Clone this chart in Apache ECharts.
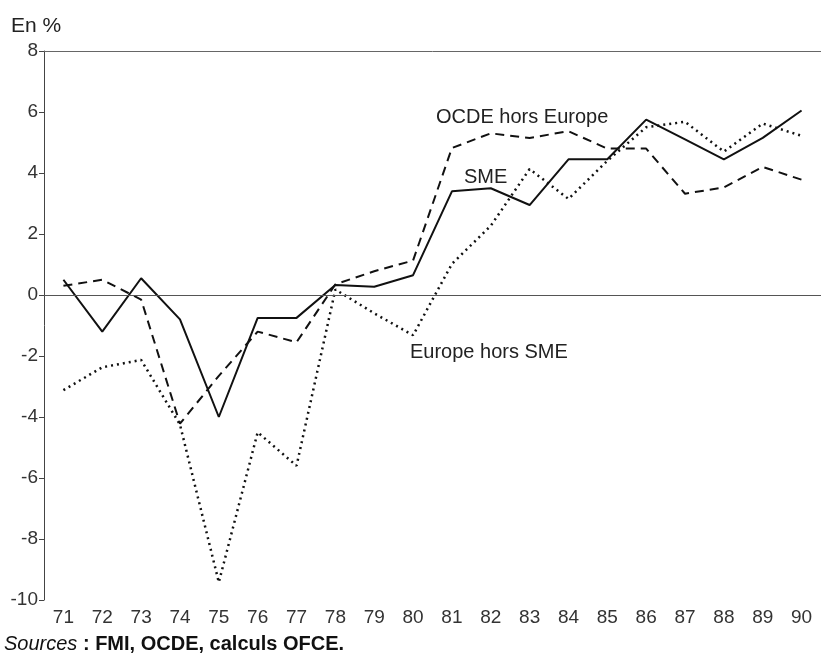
<!DOCTYPE html>
<html>
<head>
<meta charset="utf-8">
<script src="https://cdn.jsdelivr.net/npm/echarts@6/dist/echarts.min.js"></script>
<style>
  html, body { margin: 0; padding: 0; background: #fff; }
  #chart { width: 821px; height: 653px; }
</style>
</head>
<body>
<div id="chart"></div>
<script>
// années (axe des x)
var years = ['71', '72', '73', '74', '75', '76', '77', '78', '79', '80',
             '81', '82', '83', '84', '85', '86', '87', '88', '89', '90'];

// SME (trait plein)
var sme = [0.5, -1.2, 0.55, -0.8, -4.0, -0.75, -0.75, 0.33, 0.27, 0.65,
           3.4, 3.5, 2.95, 4.45, 4.45, 5.75, 5.1, 4.45, 5.15, 6.05];

// OCDE hors Europe (tirets)
var ocde = [0.3, 0.5, -0.15, -4.22, -2.65, -1.2, -1.55, 0.35, 0.78, 1.13,
            4.82, 5.3, 5.15, 5.37, 4.8, 4.8, 3.32, 3.53, 4.2, 3.78];

// Europe hors SME (pointillés)
var europe = [-3.12, -2.37, -2.13, -4.25, -9.42, -4.5, -5.6, 0.18, -0.6, -1.32,
              1.02, 2.27, 4.13, 3.15, 4.4, 5.5, 5.68, 4.7, 5.62, 5.22];

var yMin = -10, yMax = 8, yStep = 2;

var font = 'Liberation Sans, Arial, sans-serif';

var chart = echarts.init(document.getElementById('chart'));

function lineSeries(name, data, type, width) {
    return {
        name: name,
        type: 'line',
        data: data,
        xAxisIndex: 0,
        symbol: 'none',
        animation: false,
        lineStyle: {
            color: '#111',
            width: width,
            type: type
        }
    };
}

var series = [
    lineSeries('SME', sme, 'solid', 2),
    lineSeries('OCDE hors Europe', ocde, [9, 6], 2),
    lineSeries('Europe hors SME', europe, [2, 4], 2.5)
];

// ligne du zéro
series[0].markLine = {
    silent: true,
    symbol: 'none',
    label: { show: false },
    lineStyle: { color: '#555', width: 1, type: 'solid' },
    data: [{ yAxis: 0 }]
};

var option = {
    backgroundColor: '#fff',
    animation: false,
    grid: {
        left: 44,
        width: 780,
        top: 51,
        bottom: 53
    },
    xAxis: [
        {
            type: 'category',
            data: years,
            boundaryGap: true,
            axisLine: { lineStyle: { color: '#444', width: 1 } },
            axisTick: { alignWithLabel: true, length: 5, lineStyle: { color: '#444' } },
            axisLabel: { color: '#333', fontSize: 19, fontFamily: font, margin: 8 },
            splitLine: { show: false }
        },
        {
            // trait du cadre en haut
            type: 'category',
            data: years,
            position: 'top',
            axisLine: { lineStyle: { color: '#666', width: 1 } },
            axisTick: { show: false },
            axisLabel: { show: false },
            splitLine: { show: false }
        }
    ],
    yAxis: {
        type: 'value',
        min: yMin,
        max: yMax,
        interval: yStep,
        axisLine: { show: true, lineStyle: { color: '#444', width: 1 } },
        axisTick: { show: true, length: 5, lineStyle: { color: '#444' } },
        axisLabel: { color: '#333', fontSize: 19, fontFamily: font, margin: 6 },
        splitLine: { show: false }
    },
    graphic: [
        {
            type: 'text', left: 11, top: 16,
            style: { text: 'En %', fontSize: 21, fontFamily: font, fill: '#222' }
        },
        {
            type: 'text', x: 436, y: 117,
            style: { text: 'OCDE hors Europe', fontSize: 20, fontFamily: font,
                     fill: '#222', verticalAlign: 'middle' }
        },
        {
            type: 'text', x: 464, y: 177,
            style: { text: 'SME', fontSize: 20, fontFamily: font,
                     fill: '#222', verticalAlign: 'middle' }
        },
        {
            type: 'text', x: 410, y: 352,
            style: { text: 'Europe hors SME', fontSize: 20, fontFamily: font,
                     fill: '#222', verticalAlign: 'middle' }
        },
        {
            type: 'text', x: 4, y: 644,
            style: {
                text: '{i|Sources} : FMI, OCDE, calculs OFCE.',
                fontSize: 20, fontFamily: font, fontWeight: 'bold',
                fill: '#111', verticalAlign: 'middle',
                rich: {
                    i: { fontStyle: 'italic', fontWeight: 'normal', fontSize: 20,
                         fontFamily: font, fill: '#111' }
                }
            }
        }
    ],
    series: series
};

chart.setOption(option);
</script>
</body>
</html>
